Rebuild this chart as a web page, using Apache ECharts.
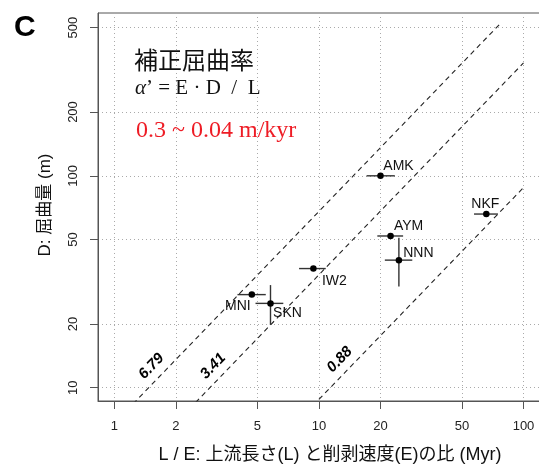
<!DOCTYPE html>
<html>
<head>
<meta charset="utf-8">
<script src="https://cdn.jsdelivr.net/npm/echarts@6/dist/echarts.min.js"></script>
<style>
  html, body { margin: 0; padding: 0; background: #fff; }
  #chart { width: 539px; height: 467px; }
</style>
</head>
<body>
<div id="chart"></div>
<script>
// River sites: upstream length / erosion rate ratio (Myr) vs. bend amount D (m)
const sites = ['AMK', 'AYM', 'NNN', 'NKF', 'IW2', 'SKN', 'MNI'];
const ratioLE = [20.0, 22.4, 24.6, 65.8, 9.4, 5.8, 4.7];
const ratioLow = [17.1, 19.3, 21.0, 57.3, 8.0, 4.9, 4.0];
const ratioHigh = [23.5, 25.8, 28.6, 75.0, 10.8, 6.7, 5.5];
const bendD = [100, 52, 40, 66, 36.5, 25, 27.5];
const bendLow = [null, null, 30, null, null, 19.8, null];
const bendHigh = [null, null, 51, null, null, 30.5, null];

// Reference lines D = alpha' * (L/E)
const alphaValues = [6.79, 3.41, 0.88];
const alphaLineStart = [1, 1, 10];
const alphaLineEnd = [78, 100, 100];
const alphaLabelAt = [1.52, 3.04, 12.65];

const xTicks = [1, 2, 5, 10, 20, 50, 100];
const yTicks = [10, 20, 50, 100, 200, 500];

// ---- styling ----
const lg = Math.log10;
const axisColor = '#555';
const sansFont = '"Liberation Sans", Arial, "Noto Sans CJK JP", sans-serif';
const serifFont = '"Liberation Serif", "Times New Roman", serif';
const siteLabelOffset = {
  AMK: [18, -10], AYM: [18, -10], NNN: [19.5, -7], NKF: [-1, -10],
  IW2: [21, 13], SKN: [17, 9.5], MNI: [-14, 11.5]
};
const tickFmt = v => String(Math.round(Math.pow(10, v)));

const chart = echarts.init(document.getElementById('chart'), null, { renderer: 'canvas' });

const lineSeries = alphaValues.map((a, i) => ({
  type: 'line',
  silent: true,
  clip: true,
  showSymbol: false,
  symbol: 'none',
  z: 2,
  lineStyle: { color: '#222', width: 1.1, type: [5, 4] },
  data: [
    [lg(alphaLineStart[i]), lg(a * alphaLineStart[i])],
    [lg(alphaLineEnd[i]), lg(a * alphaLineEnd[i])]
  ]
}));

const errorData = sites.map((s, i) => [
  lg(ratioLE[i]), lg(bendD[i]),
  lg(ratioLow[i]), lg(ratioHigh[i]),
  lg(bendLow[i] == null ? bendD[i] : bendLow[i]),
  lg(bendHigh[i] == null ? bendD[i] : bendHigh[i])
]);

const option = {
  animation: false,
  backgroundColor: '#fff',
  grid: {
    left: 98, top: 13, right: -1, bottom: 66,
    show: true, borderColor: axisColor, borderWidth: 1,
    outerBoundsMode: 'none'
  },
  xAxis: {
    type: 'value',
    min: -0.0796, max: 2.0806,
    axisLine: { show: true, onZero: false, lineStyle: { color: axisColor, width: 1 } },
    axisTick: { show: true, customValues: xTicks.map(lg), length: 8, lineStyle: { color: axisColor } },
    axisLabel: {
      customValues: xTicks.map(lg), formatter: tickFmt, margin: 19,
      fontSize: 13, color: '#222', fontFamily: sansFont
    },
    splitLine: { show: true, lineStyle: { color: '#aaa', width: 1, type: [1, 3] } }
  },
  yAxis: {
    type: 'value',
    min: 0.9372, max: 2.7684,
    axisLine: { show: true, onZero: false, lineStyle: { color: axisColor, width: 1 } },
    axisTick: { show: true, customValues: yTicks.map(lg), length: 8, lineStyle: { color: axisColor } },
    axisLabel: {
      customValues: yTicks.map(lg), formatter: tickFmt, margin: 18, rotate: 90,
      fontSize: 13, color: '#222', fontFamily: sansFont
    },
    splitLine: { show: true, lineStyle: { color: '#aaa', width: 1, type: [1, 3] } }
  },
  series: [
    ...lineSeries,
    {
      type: 'custom',
      silent: true,
      z: 3,
      data: errorData,
      renderItem(params, api) {
        const y = api.value(1);
        const a = api.coord([api.value(2), y]);
        const b = api.coord([api.value(3), y]);
        const children = [{
          type: 'line',
          shape: { x1: a[0], y1: a[1], x2: b[0], y2: b[1] },
          style: { stroke: '#333', lineWidth: 1.4 }
        }];
        const lo = api.value(4), hi = api.value(5);
        if (hi > lo) {
          const c = api.coord([api.value(0), lo]);
          const d = api.coord([api.value(0), hi]);
          children.push({
            type: 'line',
            shape: { x1: c[0], y1: c[1], x2: d[0], y2: d[1] },
            style: { stroke: '#333', lineWidth: 1.4 }
          });
        }
        return { type: 'group', children };
      }
    },
    {
      type: 'scatter',
      silent: true,
      z: 4,
      symbol: 'circle',
      symbolSize: 6.5,
      itemStyle: { color: '#000', opacity: 1 },
      label: {
        show: true, position: 'inside', formatter: '{b}',
        fontSize: 14, color: '#111', fontFamily: sansFont,
        align: 'center', verticalAlign: 'middle'
      },
      data: sites.map((s, i) => ({
        name: s,
        value: [lg(ratioLE[i]), lg(bendD[i])],
        label: { offset: siteLabelOffset[s] }
      }))
    },
    {
      type: 'scatter',
      silent: true,
      z: 5,
      symbolSize: 0,
      itemStyle: { opacity: 1 },
      label: {
        show: true, position: 'inside', formatter: '{b}', rotate: 46,
        fontSize: 15, fontWeight: 'bold', fontStyle: 'italic', color: '#000',
        fontFamily: sansFont, align: 'center', verticalAlign: 'middle'
      },
      data: alphaValues.map((a, i) => ({
        name: a.toFixed(2),
        value: [lg(alphaLabelAt[i]), lg(a * alphaLabelAt[i] * 1.22)]
      }))
    }
  ],
  graphic: [
    {
      type: 'text', x: 14, y: 28, z: 10,
      style: { text: 'C', fontSize: 30, fontWeight: 'bold', fontFamily: sansFont, fill: '#000', align: 'left', verticalAlign: 'middle' }
    },
    {
      type: 'text', x: 45, y: 205, rotation: Math.PI / 2, z: 10,
      style: { text: 'D: 屈曲量 (m)', fontSize: 17, fontFamily: sansFont, fill: '#111', align: 'center', verticalAlign: 'middle' }
    },
    {
      type: 'text', x: 330, y: 455, z: 10,
      style: { text: 'L / E: 上流長さ(L) と削剥速度(E)の比 (Myr)', fontSize: 18, fontFamily: sansFont, fill: '#111', align: 'center', verticalAlign: 'middle' }
    },
    {
      type: 'text', x: 134, y: 60, z: 10,
      style: { text: '補正屈曲率', fontSize: 24, fontFamily: '"Noto Sans CJK JP", sans-serif', fill: '#111', align: 'left', verticalAlign: 'middle' }
    },
    {
      type: 'text', x: 135, y: 88, z: 10,
      style: {
        text: '{a|α}’ = E · D\u2002/\u2002L',
        fontSize: 21, fontFamily: serifFont, fill: '#111', align: 'left', verticalAlign: 'middle',
        rich: { a: { fontStyle: 'italic', fontSize: 21, fontFamily: serifFont, fill: '#111' } }
      }
    },
    {
      type: 'text', x: 136, y: 131, z: 10,
      style: { text: '0.3 ~ 0.04 m/kyr', fontSize: 24, fontFamily: serifFont, fill: '#ee1c25', align: 'left', verticalAlign: 'middle' }
    }
  ]
};

chart.setOption(option);
</script>
</body>
</html>
